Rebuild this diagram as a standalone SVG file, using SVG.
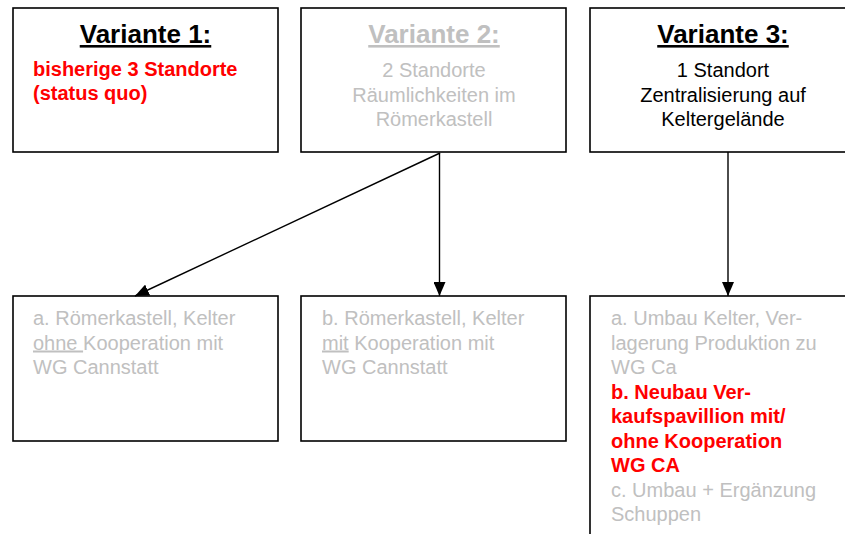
<svg xmlns="http://www.w3.org/2000/svg" width="845" height="534" viewBox="0 0 845 534">
  <style>
    .box { fill: #ffffff; stroke: #000000; stroke-width: 1.6; }
    .title { font-family: "Liberation Sans", Arial, sans-serif; font-size: 26px; font-weight: bold; text-anchor: middle; text-decoration: underline; }
    .body { font-family: "Liberation Sans", Arial, sans-serif; font-size: 20px; }
    .mid { text-anchor: middle; }
    .dark { fill: #000000; }
    .grey { fill: #c0c0c0; }
    .red { fill: #ff0000; font-weight: bold; }
    .conn { stroke: #000000; stroke-width: 1.4; fill: none; marker-end: url(#head); }
  </style>
  <defs>
    <marker id="head" viewBox="0 0 14 12" refX="14" refY="6" markerWidth="14" markerHeight="12" markerUnits="userSpaceOnUse" orient="auto">
      <path d="M0,0 L14,6 L0,12 Z" fill="#000000"/>
    </marker>
  </defs>

  <rect width="845" height="534" fill="#ffffff"/>

  <!-- top row: the three variants -->
  <g id="variante1">
    <rect class="box" x="13" y="8" width="265" height="144"/>
    <text class="title dark" x="145.5" y="43">Variante 1:</text>
    <text class="body red" x="33" y="76" font-size="21">bisherige 3 Standorte</text>
    <text class="body red" x="33" y="100" font-size="21">(status quo)</text>
  </g>

  <g id="variante2">
    <rect class="box" x="301" y="8" width="265" height="144"/>
    <text class="title grey" x="434" y="43">Variante 2:</text>
    <text class="body grey mid" x="434" y="77">2 Standorte</text>
    <text class="body grey mid" x="434" y="101.5">Räumlichkeiten im</text>
    <text class="body grey mid" x="434" y="125.5">Römerkastell</text>
  </g>

  <g id="variante3">
    <rect class="box" x="590" y="8" width="266" height="144"/>
    <text class="title dark" x="723" y="43">Variante 3:</text>
    <text class="body dark mid" x="723" y="77">1 Standort</text>
    <text class="body dark mid" x="723" y="101.5">Zentralisierung auf</text>
    <text class="body dark mid" x="723" y="125.5">Keltergelände</text>
  </g>

  <!-- bottom row: options -->
  <g id="option2a">
    <rect class="box" x="13" y="296" width="265" height="145"/>
    <text class="body grey" x="33" y="325">a. Römerkastell, Kelter</text>
    <text class="body grey" x="33" y="349.5"><tspan text-decoration="underline">ohne </tspan>Kooperation mit</text>
    <text class="body grey" x="33" y="374">WG Cannstatt</text>
  </g>

  <g id="option2b">
    <rect class="box" x="301" y="296" width="265" height="145"/>
    <text class="body grey" x="322" y="325">b. Römerkastell, Kelter</text>
    <text class="body grey" x="322" y="349.5"><tspan text-decoration="underline">mit</tspan> Kooperation mit</text>
    <text class="body grey" x="322" y="374">WG Cannstatt</text>
  </g>

  <g id="option3">
    <rect class="box" x="590" y="296" width="266" height="260"/>
    <text class="body grey" x="611" y="325">a. Umbau Kelter, Ver-</text>
    <text class="body grey" x="611" y="349.5">lagerung Produktion zu</text>
    <text class="body grey" x="611" y="374">WG Ca</text>
    <text class="body red" x="611" y="398.5">b. Neubau Ver-</text>
    <text class="body red" x="611" y="423">kaufspavillion mit/</text>
    <text class="body red" x="611" y="447.5">ohne Kooperation</text>
    <text class="body red" x="611" y="472">WG CA</text>
    <text class="body grey" x="611" y="496.5">c. Umbau + Ergänzung</text>
    <text class="body grey" x="611" y="521">Schuppen</text>
  </g>

  <!-- connectors -->
  <g id="connectors">
    <line class="conn" x1="440" y1="153" x2="135" y2="296"/>
    <line class="conn" x1="439.5" y1="153" x2="439.5" y2="296"/>
    <line class="conn" x1="728" y1="152" x2="728" y2="296"/>
  </g>
</svg>
